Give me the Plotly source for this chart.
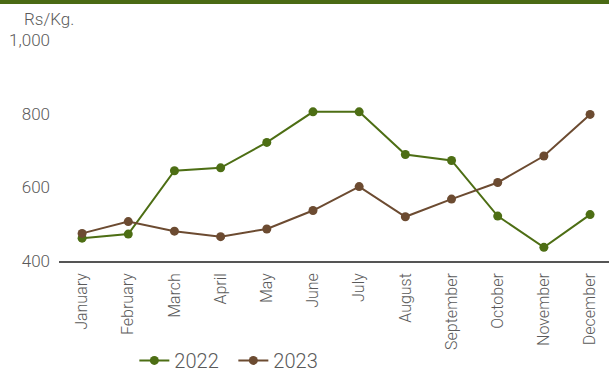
import plotly.graph_objects as go

months = ["January", "February", "March", "April", "May", "June",
          "July", "August", "September", "October", "November", "December"]
price_2022 = [462, 473, 645, 653, 722, 805, 805, 689, 673, 522, 437, 526]
price_2023 = [475, 507, 481, 466, 487, 537, 602, 520, 568, 613, 685, 798]
y_ticks = [400, 600, 800, 1000]
y_tick_text = ["400", "600", "800", "1,000"]

GREEN = "#4d6e14"
BROWN = "#6c4b31"
TEXT = "#5a5a5a"
FONT = "Roboto"

PLOT_H = 221.3
PLOT_W = 550.0

fig = go.Figure()
fig.add_trace(go.Scatter(
    x=months, y=price_2022, name="2022", mode="lines+markers",
    line=dict(color=GREEN, width=2), marker=dict(color=GREEN, size=9),
))
fig.add_trace(go.Scatter(
    x=months, y=price_2023, name="2023", mode="lines+markers",
    line=dict(color=BROWN, width=2), marker=dict(color=BROWN, size=9),
))

fig.update_layout(
    width=609, height=373,
    margin=dict(l=59, r=0, t=40, b=111.7, autoexpand=False),
    paper_bgcolor="white", plot_bgcolor="white",
    font=dict(family=FONT, color=TEXT, size=16, weight=300),
    showlegend=True,
    legend=dict(orientation="h", x=0.137, y=-80 / PLOT_H, xanchor="left", yanchor="top",
                font=dict(size=20, color=TEXT, family=FONT, weight=300),
                itemwidth=30, tracegroupgap=0,
                entrywidth=54, entrywidthmode="pixels"),
    xaxis=dict(
        type="category", range=[-0.5, 11.41], automargin=False,
        showgrid=False, zeroline=False,
        showline=True, linecolor="#555555", linewidth=1.5,
        tickangle=-90, ticks="", ticklabelstandoff=4,
        tickfont=dict(size=16, color=TEXT, family=FONT, weight=300),
    ),
    yaxis=dict(
        range=[400, 1000], tickvals=y_ticks, ticktext=y_tick_text, automargin=False,
        showgrid=False, zeroline=False, showline=False, ticks="",
        ticklabelstandoff=8,
        tickfont=dict(size=17, color=TEXT, family=FONT, weight=300),
    ),
)

# dark green rule across the top of the page
fig.add_shape(type="rect", xref="paper", yref="paper",
              x0=-59 / PLOT_W, x1=1.0, y0=(PLOT_H + 36) / PLOT_H, y1=(PLOT_H + 40) / PLOT_H,
              fillcolor="#4a6a14", line=dict(width=0), layer="above")

fig.add_annotation(text="Rs/Kg.", xref="paper", yref="paper",
                   x=-37 / PLOT_W, y=(PLOT_H + 21) / PLOT_H, xanchor="left", yanchor="middle",
                   showarrow=False, font=dict(size=17, color=TEXT, family=FONT, weight=300))

fig.write_html("out.html")
